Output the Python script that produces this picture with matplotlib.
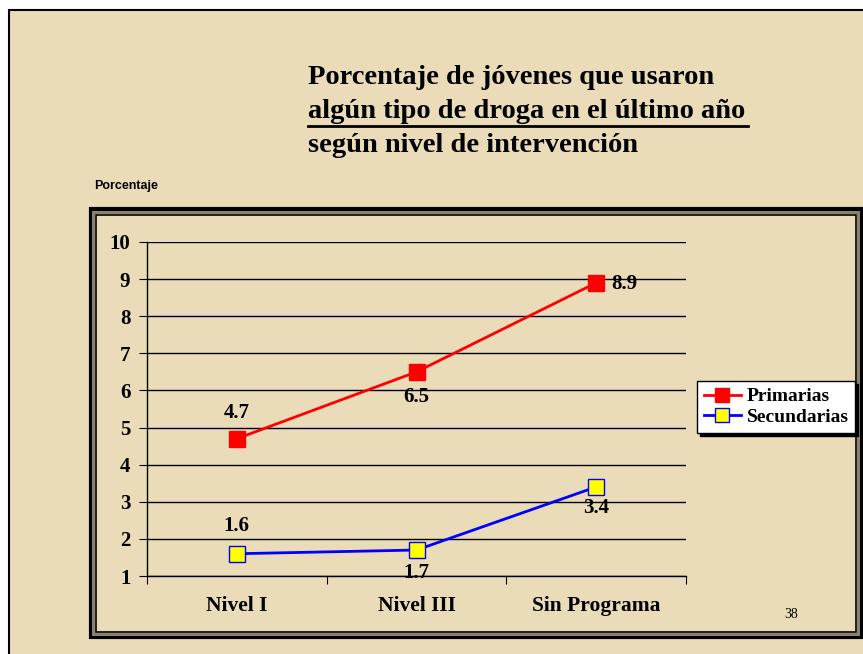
import matplotlib.pyplot as plt
from matplotlib.patches import Rectangle
from matplotlib.lines import Line2D

W, H = 863, 654

categories = ["Nivel I", "Nivel III", "Sin Programa"]
primarias = [4.7, 6.5, 8.9]
secundarias = [1.6, 1.7, 3.4]
y_ticks = list(range(1, 11))

BG = "#ebdcb9"


def fx(x):
    return x / W


def fy(y):
    return 1 - y / H


def frame_rect(left, top, right, bottom, **kw):
    return Rectangle((fx(left), fy(bottom)), fx(right - left), (bottom - top) / H,
                     transform=fig.transFigure, **kw)


fig = plt.figure(figsize=(W / 100, H / 100), dpi=100)
fig.patch.set_facecolor("white")

# slide background and border
fig.patches.append(frame_rect(9, 10, W + 10, H + 10, facecolor=BG,
                              edgecolor="black", lw=1.5, zorder=-2))

# chart frame (double border)
x0, y0, x1, y1 = 89, 208, 862, 638
for inset, lw, col in [(1.5, 3, "black"), (4, 2.2, "#8b8070"), (6.5, 1.2, "black")]:
    fig.patches.append(frame_rect(x0 + inset, y0 + inset, x1 - inset, y1 - inset,
                                  facecolor="none", edgecolor=col, lw=lw, zorder=-1))

# title
title_lines = ["Porcentaje de jóvenes que usaron",
               "algún tipo de droga en el último año",
               "según nivel de intervención"]
for i, line in enumerate(title_lines):
    fig.text(fx(308), fy(77 + 34 * i), line, family="Liberation Serif",
             fontweight="bold", fontsize=20.5, va="center", ha="left")
fig.add_artist(Line2D([fx(308), fx(748)], [fy(126), fy(126)], color="black", lw=2))

fig.text(fx(94), fy(186), "Porcentaje", family="Liberation Sans", fontweight="bold",
         fontsize=9, va="center", ha="left")
fig.text(fx(791), fy(614), "38", family="Liberation Serif", fontsize=10,
         va="center", ha="center")

ax = fig.add_axes([fx(147), fy(576), fx(686 - 147), fy(242) - fy(576)])
ax.patch.set_alpha(0)
x = list(range(len(categories)))
ax.plot(x, primarias, color="#ff0000", lw=2, marker="s", markersize=11,
        markerfacecolor="#ff0000", markeredgecolor="#ff0000", label="Primarias", zorder=3)
ax.plot(x, secundarias, color="#0000ff", lw=2, marker="s", markersize=11,
        markerfacecolor="#ffff00", markeredgecolor="#0000ff", label="Secundarias", zorder=3)

ax.set_xlim(-0.5, 2.5)
ax.set_ylim(1, 10)
ax.set_yticks(y_ticks)
ax.grid(axis="y", color="black", lw=1)
ax.set_axisbelow(True)
for s in ["top", "right"]:
    ax.spines[s].set_visible(False)
ax.spines["left"].set_linewidth(1)
ax.spines["bottom"].set_linewidth(1)
ax.set_xticks([-0.5, 0.5, 1.5, 2.5])
ax.set_xticklabels([])
ax.set_xticks(x, minor=True)
ax.set_xticklabels(categories, minor=True, family="Liberation Serif",
                   fontweight="bold", fontsize=15.5)
ax.tick_params(axis="x", which="minor", length=0, pad=14.5)
ax.tick_params(axis="x", which="major", length=6, direction="out")
ax.tick_params(axis="y", length=6, direction="out", labelsize=15, pad=6)
for t in ax.get_yticklabels():
    t.set_family("Liberation Serif")
    t.set_fontweight("bold")

# data labels
lab = dict(family="Liberation Serif", fontweight="bold", fontsize=15,
           ha="center", va="center")
p_off = [(0, 26), (0, -25), (28, -1)]
s_off = [(0, 28), (0, -23), (0, -21)]
for i in x:
    ax.annotate(f"{primarias[i]}", (i, primarias[i]), xytext=p_off[i],
                textcoords="offset pixels", **lab)
    ax.annotate(f"{secundarias[i]}", (i, secundarias[i]), xytext=s_off[i],
                textcoords="offset pixels", **lab)

leg = fig.legend(loc="upper left", bbox_to_anchor=(fx(697), fy(381)),
                 prop={"family": "Liberation Serif", "weight": "bold", "size": 14},
                 frameon=True, fancybox=False, shadow={"color": "black", "alpha": 1},
                 handlelength=1.9, handletextpad=0.3, borderpad=0.35,
                 labelspacing=0.15, borderaxespad=0)
leg.get_frame().set_edgecolor("black")
leg.get_frame().set_linewidth(1)
for h in leg.legend_handles:
    h.set_markersize(10)

fig.savefig("out.png", dpi=100)
